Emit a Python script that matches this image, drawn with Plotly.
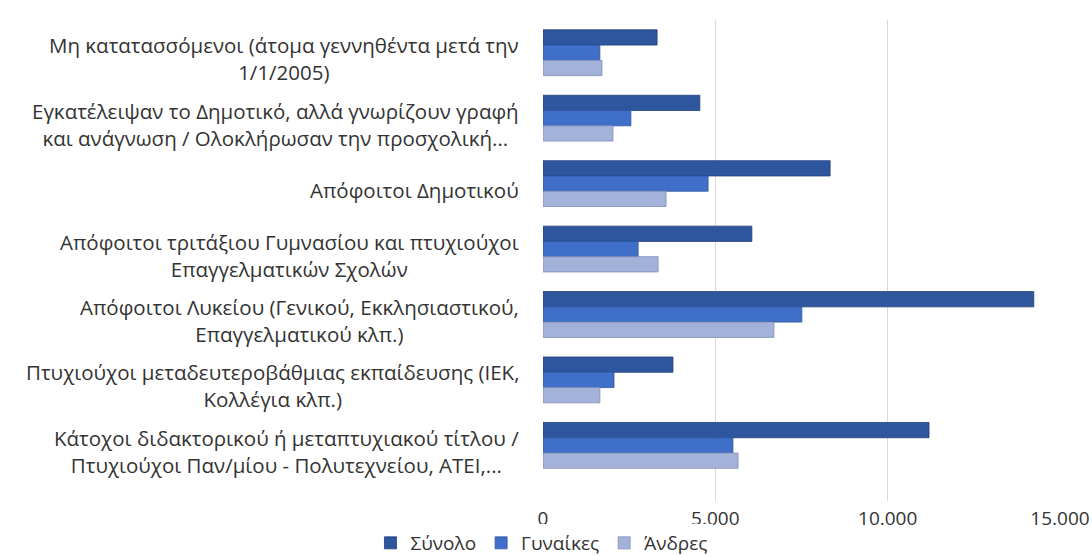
import plotly.graph_objects as go

categories = [
    "Μη κατατασσόμενοι (άτομα γεννηθέντα μετά την<br>1/1/2005)",
    "Εγκατέλειψαν το Δημοτικό, αλλά γνωρίζουν γραφή<br>και ανάγνωση / Ολοκλήρωσαν την προσχολική...",
    "Απόφοιτοι Δημοτικού",
    "Απόφοιτοι τριτάξιου Γυμνασίου και πτυχιούχοι<br>Επαγγελματικών Σχολών",
    "Απόφοιτοι Λυκείου (Γενικού, Εκκλησιαστικού,<br>Επαγγελματικού κλπ.)",
    "Πτυχιούχοι μεταδευτεροβάθμιας εκπαίδευσης (ΙΕΚ,<br>Κολλέγια κλπ.)",
    "Κάτοχοι διδακτορικού ή μεταπτυχιακού τίτλου /<br>Πτυχιούχοι Παν/μίου - Πολυτεχνείου, ΑΤΕΙ,...",
]
synolo = [3310, 4550, 8330, 6060, 14240, 3770, 11200]
gynaikes = [1650, 2550, 4790, 2760, 7510, 2060, 5510]
andres = [1710, 2030, 3570, 3340, 6700, 1650, 5660]

series_names = ["Σύνολο", "Γυναίκες", "Άνδρες"]
colors = ["#2E569E", "#3F6FC8", "#A3B2D9"]
edge_colors = ["#1F3F78", "#2D55A0", "#7E8DB8"]

x_ticks = [0, 5000, 10000, 15000]
x_tick_labels = ["0", "5.000", "10.000", "15.000"]

FONT = "Open Sans"
TXT = "#333333"
idx = list(range(len(categories)))

fig = go.Figure()
for name, vals, c, ec in zip(series_names, [synolo, gynaikes, andres], colors, edge_colors):
    fig.add_trace(go.Bar(
        y=idx, x=vals, name=name, orientation="h",
        marker=dict(color=c, line=dict(color=ec, width=0.8)),
    ))

for i, cat in enumerate(categories):
    fig.add_annotation(
        x=0, xref="paper", y=i, yref="y", text=cat,
        xanchor="right", yanchor="middle", align="center",
        xshift=-22, yshift=-6, showarrow=False,
        font=dict(family=FONT, size=20.5, color=TXT),
    )

fig.update_layout(
    width=1092, height=556,
    margin=dict(l=543, r=32, t=20, b=55),
    barmode="group", bargap=0.3, bargroupgap=0,
    plot_bgcolor="white", paper_bgcolor="white",
    font=dict(family=FONT, size=19.5, color=TXT),
    xaxis=dict(
        range=[0, 15000], tickvals=x_ticks, ticktext=x_tick_labels,
        showgrid=True, gridcolor="#D9D9D9", gridwidth=1,
        zeroline=False, showline=False, ticks="",
        ticklabelstandoff=4, ticklabeloverflow="allow", automargin=False,
        tickfont=dict(family=FONT, size=19, color=TXT),
    ),
    yaxis=dict(
        range=[6.85, -0.5], showticklabels=False, showgrid=False,
        zeroline=False, showline=False, ticks="",
    ),
    legend=dict(
        orientation="h", xref="paper", x=-0.002, xanchor="center",
        yref="container", y=(556 - 543) / 556, yanchor="middle",
        font=dict(family=FONT, size=19, color=TXT),
        traceorder="normal", itemwidth=30,
    ),
    showlegend=True,
)

fig.write_html("out.html", config={"displayModeBar": False},
               post_script="document.body.style.margin='0';")
